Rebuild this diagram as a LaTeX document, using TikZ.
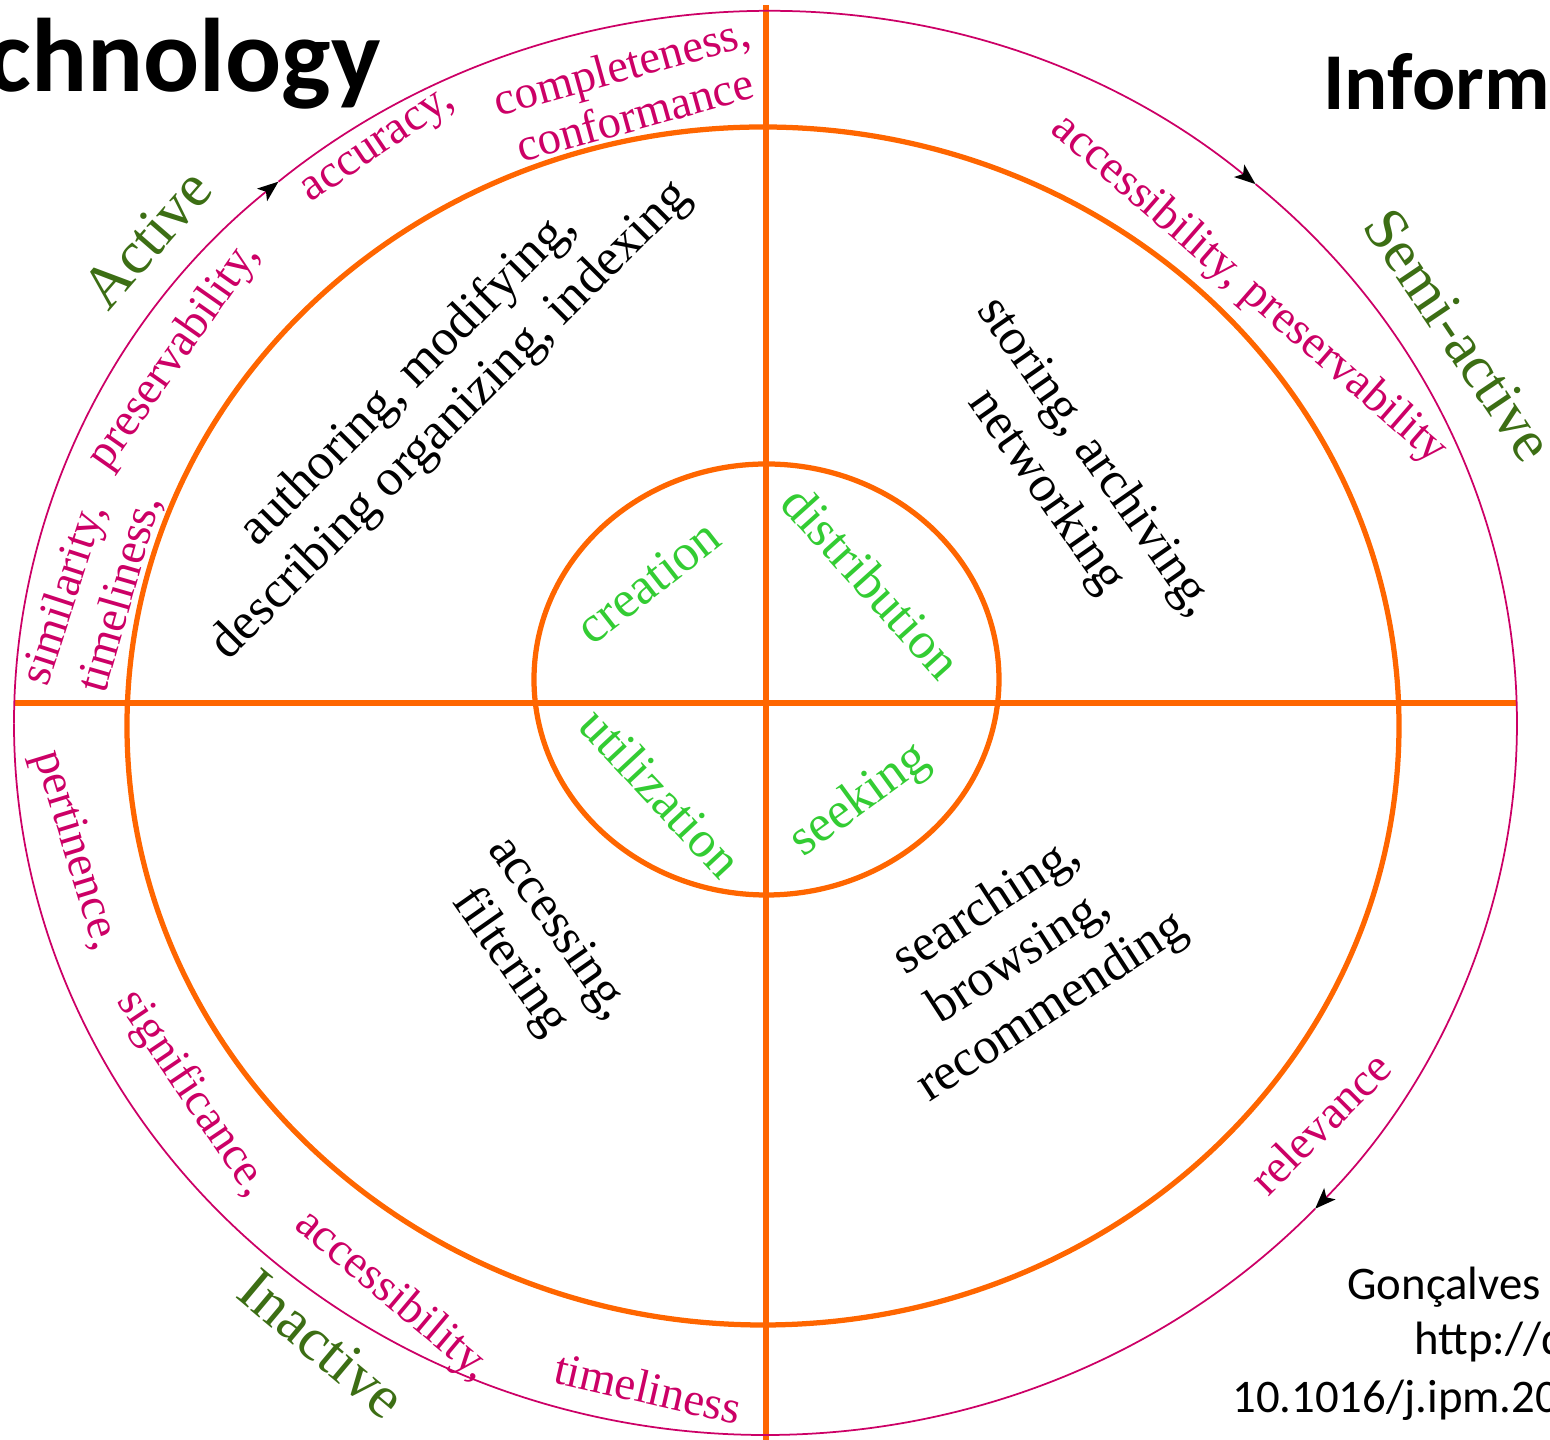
\documentclass[tikz,border=0pt]{standalone}
\usepackage{fontspec}
\setmainfont{Liberation Serif}
\newfontfamily\timesface{Liberation Serif}
\newfontfamily\calibri{Carlito}
\usetikzlibrary{arrows.meta}

\definecolor{lcorange}{HTML}{FF6600}
\definecolor{qualmag}{HTML}{CC0066}
\definecolor{stagegreen}{HTML}{33CC33}
\definecolor{phasegreen}{HTML}{3C6E14}

\tikzset{
  ring/.style={draw=lcorange, line width=1.05mm},
  rim/.style={draw=qualmag, line width=0.35mm},
  tip/.style={-{Stealth[black,length=4.2mm,width=3.2mm,inset=1mm]}},
  quality/.style={text=qualmag, inner sep=0, align=center, font=\timesface\fontsize{26.6pt}{29pt}\selectfont},
  activity/.style={text=black, inner sep=0, align=center, font=\timesface\fontsize{29.4pt}{34pt}\selectfont},
  stage/.style={text=stagegreen, inner sep=0, font=\timesface\fontsize{29.5pt}{33pt}\selectfont},
  phase/.style={text=phasegreen, inner sep=0, font=\timesface\fontsize{34.5pt}{39pt}\selectfont},
  heading/.style={inner sep=0, font=\calibri\bfseries\fontsize{#1}{#1}\selectfont},
  source/.style={anchor=base west, inner sep=0, font=\calibri\fontsize{26.6pt}{32pt}\selectfont},
}

\begin{document}
\begin{tikzpicture}[x=0.2mm, y=0.2mm]
\path[use as bounding box, clip] (-766,-737) rectangle (784,703);

%%   kw   (name)   (x, y)   {text}
    \coordinate (rimc) at (-0.5,-20.5);
    \coordinate (outc) at (-3,-23);
    \coordinate (inc) at (0.5,23.5);

    % rings and cross
    \draw[ring] (outc) ellipse [x radius=636, y radius=599];
    \draw[ring] (inc) ellipse [x radius=232.5, y radius=215.5];
    \draw[ring] (0,698) -- (0,-745);
    \draw[ring] (-752,0) -- (751,0);

    % outer rim, clockwise
    \draw[rim,tip] (rimc) ++(180:751.5 and 711.5) arc[start angle=180, end angle=130.4, x radius=751.5, y radius=711.5];
    \draw[rim,tip] (rimc) ++(130.4:751.5 and 711.5) arc[start angle=130.4, end angle=49.3, x radius=751.5, y radius=711.5];
    \draw[rim,tip] (rimc) ++(49.3:751.5 and 711.5) arc[start angle=49.3, end angle=-43, x radius=751.5, y radius=711.5];
    \draw[rim] (rimc) ++(-43:751.5 and 711.5) arc[start angle=-43, end angle=-180, x radius=751.5, y radius=711.5];

    % titles
    \node[heading=59.5pt, anchor=base east] (techtitle) at (-385,611) {Technology};
    \node[heading=45.9pt, anchor=base west] (infotitle) at (557,593) {Information};

    % phases
    \node[phase, rotate=49] (active) at (-619,464) {Active};
    \node[phase, rotate=-56] (semiactive) at (693,368) {Semi-active};
    \node[phase, rotate=-40] (inactive) at (-444,-641) {Inactive};

    % quality dimensions
    \node[quality, rotate=34] (accuracy) at (-386,554) {accuracy,};
    \node[quality, rotate=15.5] (completeness) at (-138,613) {completeness,\\conformance};
    \node[quality, rotate=55] (preserv) at (-591,347) {preservability,};
    \node[quality, rotate=72] (similarity) at (-700,108) {similarity,};
    \node[quality, rotate=74] (timely) at (-645,109) {timeliness,};
    \node[quality, rotate=-41] (access) at (483,413) {accessibility, preservability};
    \node[quality, rotate=-73] (pertinence) at (-691,-148) {pertinence,};
    \node[quality, rotate=-56] (significance) at (-574,-391) {significance,};
    \node[quality, rotate=-40] (accessb) at (-374,-593) {accessibility,};
    \node[quality, rotate=-13] (timelyb) at (-118,-685) {timeliness};
    \node[quality, rotate=45] (relevance) at (554,-420) {relevance};

    % activities
    \node[activity, rotate=45] (authoring) at (-336,303) {authoring, modifying,\\describing organizing, indexing};
    \node[activity, rotate=-55] (storing) at (304,228) {storing, archiving,\\networking};
    \node[activity, rotate=-55] (accessing) at (-233,-243) {accessing,\\filtering};
    \node[activity, rotate=33] (searching) at (254,-255) {searching,\\browsing,\\recommending};

    % stages
    \node[stage, rotate=38] (creation) at (-118,121) {creation};
    \node[stage, rotate=-48] (distribution) at (106,121) {distribution};
    \node[stage, rotate=-47] (utilization) at (-105,-89) {utilization};
    \node[stage, rotate=36] (seeking) at (94,-98) {seeking};

    % source
    \node[source] (src1) at (581,-597) {Gonçalves et al.};
    \node[source] (src2) at (648,-652) {http://dx.doi.org/};
    \node[source] (src3) at (466,-710) {10.1016/j.ipm.2007.01.008};
\end{tikzpicture}
\end{document}
